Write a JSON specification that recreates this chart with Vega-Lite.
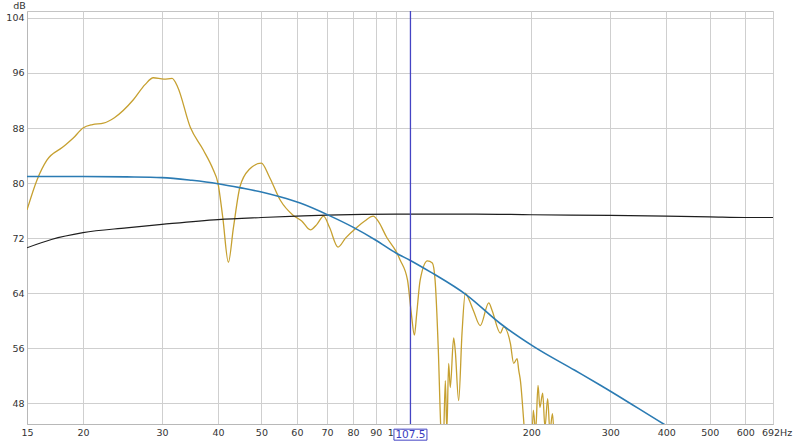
{
  "$schema": "https://vega.github.io/schema/vega-lite/v6.json",
  "width": 746,
  "height": 413,
  "autosize": {"type": "none"},
  "padding": {"left": 27, "top": 11, "right": 27, "bottom": 17},
  "background": "white",
  "config": {
    "view": {"stroke": "#c4c4c4", "strokeWidth": 1},
    "axis": {
      "labelFont": "DejaVu Sans",
      "labelFontSize": 9.5,
      "labelColor": "#333333",
      "titleFont": "DejaVu Sans",
      "titleFontSize": 9.5,
      "titleFontWeight": "normal",
      "titleColor": "#333333",
      "gridColor": "#cfcfcf",
      "gridWidth": 1,
      "domainColor": "#b8b8b8",
      "tickSize": 0,
      "labelPadding": 3
    }
  },
  "datasets": {
    "gold": [
      {"f": 15, "db": 76.1}, {"f": 15.8, "db": 80.5}, {"f": 16.6, "db": 83.3}, {"f": 18.0, "db": 85.2},
      {"f": 19.0, "db": 86.5}, {"f": 20.0, "db": 88.0}, {"f": 21.0, "db": 88.5}, {"f": 22.2, "db": 88.7},
      {"f": 23.5, "db": 89.5}, {"f": 25.9, "db": 92.1}, {"f": 27.5, "db": 94.3}, {"f": 28.7, "db": 95.3},
      {"f": 30.3, "db": 95.1}, {"f": 31.6, "db": 95.2}, {"f": 32.5, "db": 94.0}, {"f": 34.7, "db": 88.1},
      {"f": 37.1, "db": 84.8}, {"f": 39.0, "db": 82.0}, {"f": 40.0, "db": 80.0}, {"f": 41.0, "db": 75.0},
      {"f": 42.2, "db": 68.5}, {"f": 43.3, "db": 73.5}, {"f": 44.8, "db": 79.5}, {"f": 47.0, "db": 82.0},
      {"f": 50.0, "db": 82.9}, {"f": 52.0, "db": 81.0}, {"f": 55.1, "db": 77.5}, {"f": 58.9, "db": 75.3},
      {"f": 61.5, "db": 74.5}, {"f": 64.3, "db": 73.2}, {"f": 66.5, "db": 74.0}, {"f": 68.8, "db": 75.2},
      {"f": 71.0, "db": 73.5}, {"f": 74.1, "db": 70.7}, {"f": 77.0, "db": 72.0}, {"f": 81.7, "db": 73.6},
      {"f": 85.0, "db": 74.5}, {"f": 88.8, "db": 75.2}, {"f": 91.0, "db": 74.5}, {"f": 95.2, "db": 72.1},
      {"f": 100.0, "db": 70.0}, {"f": 102.0, "db": 68.8}, {"f": 105.9, "db": 65.9}, {"f": 108.0, "db": 61.0},
      {"f": 109.7, "db": 57.9}, {"f": 111.0, "db": 61.0}, {"f": 113.0, "db": 65.9}, {"f": 117.3, "db": 68.7},
      {"f": 120.3, "db": 68.4}, {"f": 122.0, "db": 65.9}, {"f": 124.0, "db": 56.0}, {"f": 125.7, "db": 44.0},
      {"f": 127.0, "db": 40.0}, {"f": 128.6, "db": 51.3}, {"f": 129.6, "db": 44.0}, {"f": 130.8, "db": 53.8},
      {"f": 131.9, "db": 50.3}, {"f": 134.2, "db": 57.5}, {"f": 135.3, "db": 55.7}, {"f": 137.7, "db": 48.4},
      {"f": 140.1, "db": 58.2}, {"f": 142.5, "db": 64.0}, {"f": 143.7, "db": 63.7}, {"f": 148.5, "db": 61.5},
      {"f": 153.9, "db": 59.3}, {"f": 160.7, "db": 62.6}, {"f": 163.5, "db": 61.5}, {"f": 170.6, "db": 58.2},
      {"f": 173.5, "db": 59.1}, {"f": 179.6, "db": 56.7}, {"f": 182.7, "db": 53.8}, {"f": 185.9, "db": 54.5},
      {"f": 187.5, "db": 52.8}, {"f": 189.1, "db": 51.3}, {"f": 192.3, "db": 45.5}, {"f": 195.0, "db": 40.0},
      {"f": 200.0, "db": 40.0}, {"f": 202.0, "db": 47.0}, {"f": 204.5, "db": 44.0}, {"f": 207.0, "db": 50.6},
      {"f": 209.0, "db": 47.4}, {"f": 212.0, "db": 49.5}, {"f": 214.5, "db": 44.5}, {"f": 217.5, "db": 48.7},
      {"f": 220.0, "db": 44.0}, {"f": 223.0, "db": 46.5}, {"f": 226.0, "db": 40.0}, {"f": 230.0, "db": 38.0}
    ],
    "blue": [
      {"f": 15, "db": 80.95}, {"f": 20, "db": 80.95}, {"f": 25, "db": 80.9}, {"f": 30, "db": 80.8},
      {"f": 35, "db": 80.4}, {"f": 40, "db": 79.9}, {"f": 45, "db": 79.3}, {"f": 50, "db": 78.7},
      {"f": 55, "db": 78.0}, {"f": 61, "db": 77.1}, {"f": 71.3, "db": 75.2}, {"f": 80, "db": 73.6},
      {"f": 90, "db": 71.7}, {"f": 100, "db": 69.8}, {"f": 107.2, "db": 68.8}, {"f": 119, "db": 67.1},
      {"f": 143.7, "db": 63.7}, {"f": 170.5, "db": 59.6}, {"f": 203, "db": 56.2}, {"f": 250, "db": 52.8},
      {"f": 285.8, "db": 50.6}, {"f": 394.5, "db": 45.0}, {"f": 692, "db": 35.5}
    ],
    "black": [
      {"f": 15, "db": 70.6}, {"f": 17, "db": 71.8}, {"f": 20, "db": 72.8}, {"f": 25, "db": 73.5},
      {"f": 30, "db": 74.0}, {"f": 40, "db": 74.7}, {"f": 50, "db": 75.0}, {"f": 60, "db": 75.2},
      {"f": 70, "db": 75.35}, {"f": 100, "db": 75.5}, {"f": 150, "db": 75.5}, {"f": 200, "db": 75.4},
      {"f": 300, "db": 75.3}, {"f": 400, "db": 75.2}, {"f": 500, "db": 75.1}, {"f": 600, "db": 75.0},
      {"f": 692, "db": 75.0}
    ],
    "cursor": [{"f": 107.5, "label": "107.5", "db": 43.45}]
  },
  "encoding": {
    "x": {
      "field": "f", "type": "quantitative",
      "scale": {"type": "log", "domain": [15, 692], "nice": false, "zero": false},
      "axis": {
        "title": null,
        "values": [15, 20, 30, 40, 50, 60, 70, 80, 90, 100, 200, 300, 400, 500, 600, 692],
        "labelExpr": "datum.value == 692 ? '692Hz' : datum.value",
        "labelFlush": false,
        "labelOverlap": false,
        "labelOffset": {"condition": {"test": "datum.value == 692", "value": 3.5}, "value": 0},
        "grid": true
      }
    },
    "y": {
      "field": "db", "type": "quantitative",
      "scale": {"domain": [45, 105], "nice": false, "zero": false},
      "axis": {
        "title": "dB",
        "titleAngle": 0,
        "titleX": -8,
        "titleY": -6,
        "titleAlign": "center",
        "titleBaseline": "middle",
        "values": [48, 56, 64, 72, 80, 88, 96, 104],
        "grid": true
      }
    }
  },
  "layer": [
    {
      "data": {"name": "gold"},
      "mark": {"type": "line", "color": "#c6a030", "strokeWidth": 1.3, "interpolate": "monotone", "clip": true}
    },
    {
      "data": {"name": "black"},
      "mark": {"type": "line", "color": "#1e1e1e", "strokeWidth": 1.2, "interpolate": "monotone", "clip": true}
    },
    {
      "data": {"name": "blue"},
      "mark": {"type": "line", "color": "#2b7bb3", "strokeWidth": 1.6, "interpolate": "monotone", "clip": true}
    },
    {
      "data": {"name": "cursor"},
      "mark": {"type": "rule", "color": "#4444c4", "strokeWidth": 1.3},
      "encoding": {"y": null}
    },
    {
      "data": {"name": "cursor"},
      "mark": {
        "type": "point",
        "shape": "M-1,-0.3333H1V0.3333H-1Z",
        "size": 1089,
        "filled": true,
        "fill": "white",
        "fillOpacity": 1,
        "stroke": "#4444c4",
        "strokeWidth": 1,
        "opacity": 1,
        "clip": false
      }
    },
    {
      "data": {"name": "cursor"},
      "mark": {
        "type": "text",
        "font": "DejaVu Sans",
        "fontSize": 10.5,
        "color": "#3a3abf",
        "align": "center",
        "baseline": "middle",
        "clip": false
      },
      "encoding": {"text": {"field": "label"}}
    }
  ]
}
